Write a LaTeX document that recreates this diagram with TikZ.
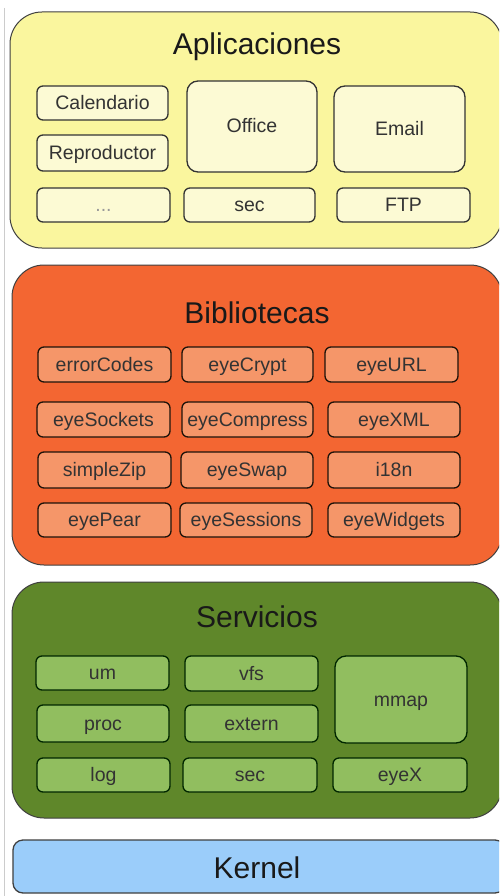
\documentclass[tikz,border=0pt]{standalone}
\usepackage{fontspec}
\setmainfont{Liberation Sans}
\begin{document}
\begin{tikzpicture}[x=1pt,y=-1pt,
  panel/.style={draw=black!75, line width=1pt, rounded corners=32pt, inner sep=0pt},
  ibox/.style={draw=black!80, line width=1.3pt, rounded corners=6pt, inner sep=0pt, font=\fontsize{19.5}{21}\selectfont, text=black!80, text height=16pt, text depth=3pt},
  bigbox/.style={ibox, rounded corners=11pt},
  ttl/.style={font=\fontsize{30}{32}\selectfont, anchor=base, text=black!90},
  ypan/.style={panel, fill=appyel},
  opan/.style={panel, fill=libor},
  gpan/.style={panel, fill=servgr},
  ybox/.style={fill=appyelin},
  obox/.style={fill=liborin, draw=black!85!brown},
  gbox/.style={fill=servgrin, draw=black!85!green}]
\definecolor{appyel}{RGB}{250,246,158}
\definecolor{appyelin}{RGB}{252,250,212}
\definecolor{libor}{RGB}{243,102,50}
\definecolor{liborin}{RGB}{245,150,105}
\definecolor{servgr}{RGB}{95,135,42}
\definecolor{servgrin}{RGB}{145,190,95}
\definecolor{kerbl}{RGB}{155,205,250}
\useasboundingbox (0,0) rectangle (499,896);
\clip (0,0) rectangle (499,896);
\fill[white] (0,0) rectangle (499,896);
\draw[black!20, line width=1pt] (4,8) -- (4,896);
% Aplicaciones
\node[ypan, minimum width=492pt, minimum height=236pt] (app) at (256,130) {};
\node[ttl] (apptitle) at (257,54.5) {Aplicaciones};
\node[ibox, ybox, minimum width=131pt, minimum height=34pt] (cal) at (102.5,103) {Calendario};
\node[ibox, ybox, minimum width=131pt, minimum height=36pt] (rep) at (102.5,153) {Reproductor};
\node[bigbox, ybox, minimum width=130pt, minimum height=91pt] (office) at (252,126.5) {Office};
\node[bigbox, ybox, minimum width=131pt, minimum height=86pt] (email) at (399.5,129) {Email};
\node[ibox, ybox, minimum width=133pt, minimum height=34pt, text=black!40] (dots) at (103.5,205) {...};
\node[ibox, ybox, minimum width=131pt, minimum height=34pt] (asec) at (249.5,205) {sec};
\node[ibox, ybox, minimum width=133pt, minimum height=34pt] (ftp) at (403.5,205) {FTP};
% Bibliotecas
\node[opan, minimum width=490pt, minimum height=300pt] (lib) at (257,415) {};
\node[ttl] (libtitle) at (257,323) {Bibliotecas};
\node[ibox, obox, minimum width=133pt, minimum height=35pt] (err) at (104.5,364.5) {errorCodes};
\node[ibox, obox, minimum width=131pt, minimum height=35pt] (crypt) at (247.5,364.5) {eyeCrypt};
\node[ibox, obox, minimum width=133pt, minimum height=35pt] (url) at (391.5,364.5) {eyeURL};
\node[ibox, obox, minimum width=133pt, minimum height=35pt] (sock) at (103.5,419.5) {eyeSockets};
\node[ibox, obox, minimum width=131pt, minimum height=35pt] (comp) at (247.5,419.5) {eyeCompress};
\node[ibox, obox, minimum width=132pt, minimum height=35pt] (xml) at (394,419.5) {eyeXML};
\node[ibox, obox, minimum width=133pt, minimum height=36pt] (zip) at (104.5,470) {simpleZip};
\node[ibox, obox, minimum width=132pt, minimum height=36pt] (swap) at (247,470) {eyeSwap};
\node[ibox, obox, minimum width=132pt, minimum height=36pt] (i18n) at (394,470) {i18n};
\node[ibox, obox, minimum width=133pt, minimum height=34pt] (pear) at (104.5,520) {eyePear};
\node[ibox, obox, minimum width=132pt, minimum height=34pt] (sess) at (246,520) {eyeSessions};
\node[ibox, obox, minimum width=132pt, minimum height=34pt] (widg) at (394,520) {eyeWidgets};
% Servicios
\node[gpan, minimum width=490pt, minimum height=236pt] (serv) at (257,700) {};
\node[ttl] (servtitle) at (257,627) {Servicios};
\node[ibox, gbox, minimum width=133pt, minimum height=34pt] (um) at (102.5,673) {um};
\node[ibox, gbox, minimum width=133pt, minimum height=35pt] (vfs) at (251.5,673.5) {vfs};
\node[bigbox, gbox, minimum width=132pt, minimum height=87pt] (mmap) at (401,699.5) {mmap};
\node[ibox, gbox, minimum width=132pt, minimum height=37pt] (proc) at (103,723.5) {proc};
\node[ibox, gbox, minimum width=133pt, minimum height=37pt] (ext) at (251.5,723.5) {extern};
\node[ibox, gbox, minimum width=133pt, minimum height=34pt] (log) at (103.5,775) {log};
\node[ibox, gbox, minimum width=134pt, minimum height=34pt] (ssec) at (250,775) {sec};
\node[ibox, gbox, minimum width=134pt, minimum height=34pt] (eyex) at (400,775) {eyeX};
% Kernel
\node[draw=black!75, line width=1.3pt, rounded corners=10pt, fill=kerbl, minimum width=492pt, minimum height=53pt, inner sep=0pt] (kern) at (259,866.5) {};
\node[ttl] (kerntitle) at (257,878) {Kernel};
\end{tikzpicture}
\end{document}
